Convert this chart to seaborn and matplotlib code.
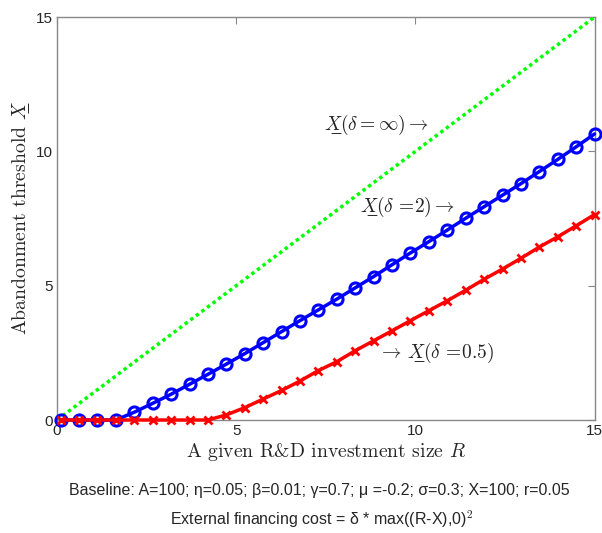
import matplotlib
matplotlib.use("Agg")
import matplotlib.pyplot as plt
import numpy as np
import pandas as pd
import seaborn as sns

# investment size grid (30 points) and thresholds
R = [0.1, 0.614, 1.128, 1.641, 2.155, 2.669, 3.183, 3.697, 4.210, 4.724,
     5.238, 5.752, 6.266, 6.779, 7.293, 7.807, 8.321, 8.834, 9.348, 9.862,
     10.376, 10.890, 11.403, 11.917, 12.431, 12.945, 13.459, 13.972, 14.486, 15.0]
x_delta2 = [0, 0, 0, 0, 0.29, 0.62, 0.96, 1.33, 1.70, 2.08,
            2.47, 2.88, 3.29, 3.70, 4.10, 4.50, 4.92, 5.34, 5.78, 6.22,
            6.64, 7.07, 7.51, 7.94, 8.37, 8.80, 9.25, 9.70, 10.17, 10.65]
x_delta05 = [0, 0, 0, 0, 0, 0, 0, 0, 0, 0.19,
             0.46, 0.78, 1.10, 1.45, 1.84, 2.17, 2.58, 2.95, 3.32, 3.70,
             4.07, 4.44, 4.83, 5.24, 5.62, 6.02, 6.44, 6.82, 7.23, 7.65]
R_inf = [0, 15]
x_inf = [0, 15]

sns.set_style("white")
plt.rcParams['mathtext.fontset'] = 'cm'
plt.rcParams['font.family'] = ['Liberation Sans', 'DejaVu Sans']

df = pd.DataFrame({'R': R, 'd2': x_delta2, 'd05': x_delta05})
df_inf = pd.DataFrame({'R': R_inf, 'X': x_inf})

fig = plt.figure(figsize=(6.02, 5.33), dpi=100)
ax = fig.add_axes([0.0947, 0.212, 0.893, 0.756])

sns.lineplot(x='R', y='X', data=df_inf, ax=ax, color='#00ff00', linewidth=2.5,
             linestyle=(0, (1, 1)))
sns.lineplot(x='R', y='d2', data=df, ax=ax, color='#0000ff', linewidth=2.5,
             marker='o', markersize=8, markerfacecolor='none',
             markeredgecolor='#0000ff', markeredgewidth=2.2, clip_on=False)
sns.lineplot(x='R', y='d05', data=df, ax=ax, color='#ff0000', linewidth=2.5,
             marker='x', markersize=6, markeredgecolor='#ff0000', markeredgewidth=2,
             clip_on=False)

ax.set_xlim(0, 15)
ax.set_ylim(0, 15)
ax.set_xticks([0, 5, 10, 15])
ax.set_yticks([0, 5, 10, 15])
ax.tick_params(direction='in', length=5, color='#888888', labelsize=11,
               top=True, right=True, pad=3)
for s in ax.spines.values():
    s.set_color('#888888')
    s.set_linewidth(1)
    s.set_zorder(0)

XU = 'X\u0332'
ax.set_xlabel(r'A given R&D investment size $R$', fontsize=14.2, labelpad=2,
              fontfamily='cmr10')
ax.set_ylabel('Abandonment threshold $' + XU + '$', fontsize=14.2, labelpad=3,
              fontfamily='cmr10')

ax.text(7.45, 10.98, '$' + XU + r'(\delta = \infty) \rightarrow$', fontsize=14, va='center')
ax.text(8.45, 7.93, '$' + XU + r'(\delta\,=\!2) \rightarrow$', fontsize=14, va='center')
ax.text(8.97, 2.49, r'$\rightarrow\, ' + XU + r'(\delta\,=\!0.5)$', fontsize=14, va='center')

fig.text(0.530, 0.079, 'Baseline: A=100; η=0.05; β=0.01; γ=0.7; μ =-0.2; σ=0.3; X=100; r=0.05',
         ha='center', va='center', fontsize=11.5)
fig.text(0.535, 0.026, r'External financing cost = δ * max((R-X),0)$^2$',
         ha='center', va='center', fontsize=11.5)

fig.savefig('out.png', dpi=100)
